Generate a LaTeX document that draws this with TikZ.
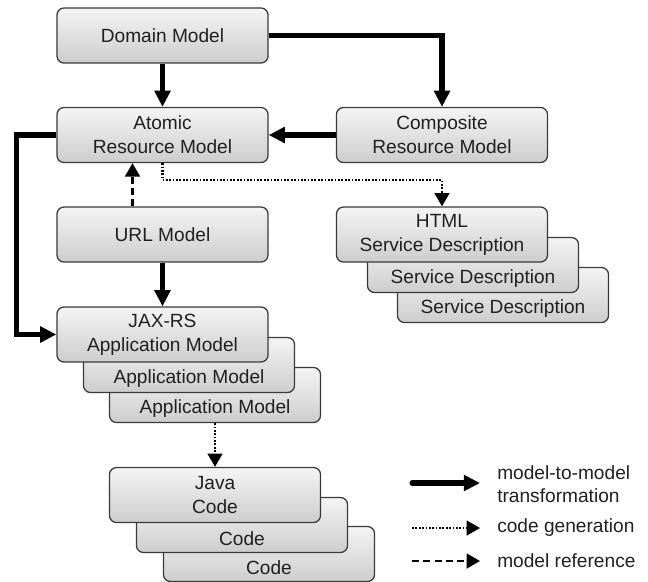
\documentclass[tikz,border=0pt]{standalone}
\usepackage{fontspec}
\setmainfont{Liberation Sans}
\usepackage{tikz}
\usetikzlibrary{arrows.meta,positioning,calc}
\definecolor{boxline}{HTML}{3A3A3A}
\definecolor{boxtop}{HTML}{F4F4F4}
\definecolor{boxbottom}{HTML}{CDCDCD}
\definecolor{inktext}{HTML}{202020}

\begin{document}
\begin{tikzpicture}[x=0.025cm, y=-0.025cm,
    model/.style={draw=boxline, line width=0.9pt, rounded corners=5pt, top color=boxtop, bottom color=boxbottom, minimum width=5.275cm, minimum height=1.375cm, align=center, font=\fontsize{13.6}{17}\selectfont, text=inktext, inner sep=0pt},
    m2m/.style={line width=3.6pt, -{Triangle[length=11.5pt,width=11pt]}},
    codegen/.style={line width=1.6pt, dash pattern=on 1.3pt off 1.1pt, -{Triangle[length=9.5pt,width=10.5pt]}},
    modelref/.style={line width=1.6pt, dash pattern=on 5pt off 3pt, -{Triangle[length=9.5pt,width=10.5pt]}},
    legend/.style={anchor=west, align=left, font=\fontsize{13.6}{16}\selectfont, text=inktext, inner sep=0pt}
]
\useasboundingbox (0,0) rectangle (648,581);

% stacked boxes at the back first
\node[model] (html3) at (503,295) {\strut\\Service Description};
\node[model] (html2) at (473,265) {\strut\\Service Description};
\node[model] (jax3) at (215,395) {\strut\\Application Model};
\node[model] (jax2) at (189,365) {\strut\\Application Model};
\node[model] (java3) at (269,554) {\strut\\Code};
\node[model] (java2) at (242,525) {\strut\\Code};

\node[model] (dom) at (162.5,35.5) {Domain Model};
\node[model] (atomic) at (162.5,135) {Atomic\\Resource Model};
\node[model] (comp) at (442,135) {Composite\\Resource Model};
\node[model] (html) at (442,234.5) {HTML\\Service Description};
\node[model] (url) at (162.5,234.5) {URL Model};
\node[model] (jax) at (162.5,334.5) {JAX-RS\\Application Model};
\node[model] (java) at (215,495) {Java\\Code};

% transformations
\draw[m2m] (dom) -- (atomic);
\draw[m2m] (dom.east) -| (comp.north);
\draw[m2m] (comp.west) -- (atomic.east);
\draw[m2m] (atomic.west) -- ++(-40,0) |- (jax.west);
\draw[m2m] (url) -- (jax);

% references and generation
\draw[modelref] ([xshift=-0.75cm]url.north) -- ([xshift=-0.75cm]atomic.south);
\coordinate (genbend) at (442,180);
\draw[codegen] (atomic.south) |- (genbend) -- (html.north);
\draw[codegen] (jax3.south) -- (java.north);

% legend
\node[legend] (leg1) at (497,484) {model-to-model\\transformation};
\node[legend] (leg2) at (497,528) {code generation};
\node[legend] (leg3) at (497,561) {model reference};
\coordinate (leg1s) at (412,483);
\coordinate (leg2s) at (412,528);
\coordinate (leg3s) at (412,561);
\draw[m2m, line cap=round] (leg1s) -- ([xshift=-0.425cm]leg1s -| leg1.west);
\draw[codegen] (leg2s) -- ([xshift=-0.425cm]leg2.west);
\draw[modelref] (leg3s) -- ([xshift=-0.425cm]leg3.west);

\end{tikzpicture}
\end{document}
